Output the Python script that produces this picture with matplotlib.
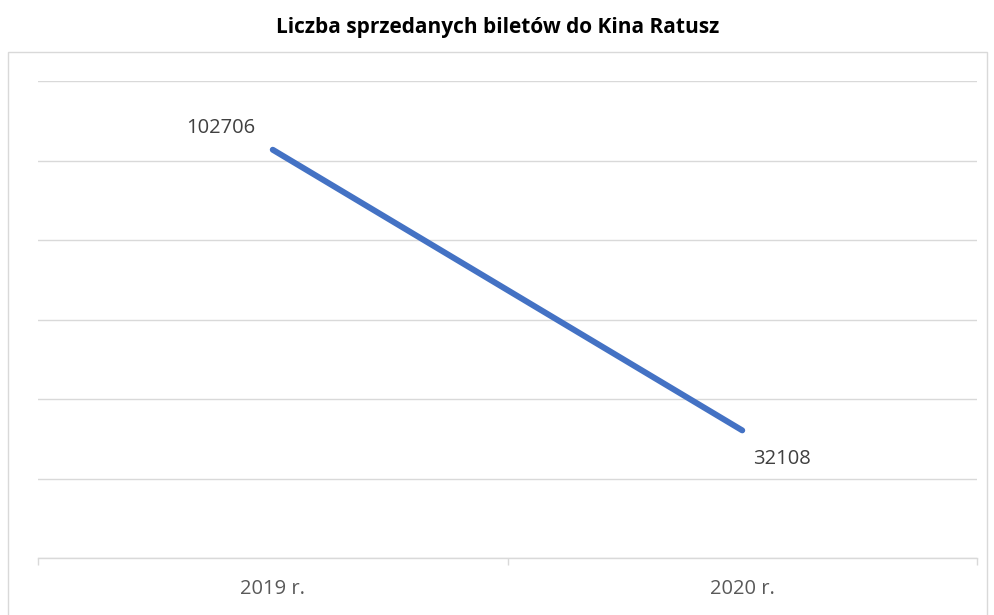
import matplotlib
matplotlib.use("Agg")
import matplotlib.pyplot as plt
from matplotlib.patches import Rectangle

categories = ["2019 r.", "2020 r."]
values = [102706, 32108]
title = "Liczba sprzedanych biletów do Kina Ratusz"

W, H = 995, 615
fig = plt.figure(figsize=(W / 100, H / 100), dpi=100)
fig.patch.set_facecolor("white")

# outer chart border
fig.add_artist(Rectangle((8 / W, -0.01), (987 - 8) / W, (H - 52) / H + 0.01,
                         transform=fig.transFigure, fill=False,
                         edgecolor="#D9D9D9", linewidth=1.0))

ax = fig.add_axes([38 / W, (H - 558) / H, (977 - 38) / W, (558 - 81) / H])
x = list(range(len(categories)))
ax.plot(x, values, color="#4472C4", linewidth=4.3, solid_capstyle="round", zorder=3)
ax.set_xlim(-0.5, len(categories) - 0.5)
ax.set_ylim(0, 120000)
ax.set_yticks(range(0, 120001, 20000))
ax.yaxis.grid(True, color="#D9D9D9", linewidth=1.0)
ax.tick_params(axis="y", left=False, labelleft=False)
for s in ["top", "right", "left"]:
    ax.spines[s].set_visible(False)
ax.spines["bottom"].set_color("#D9D9D9")
ax.spines["bottom"].set_linewidth(1.0)
ax.set_xticks([-0.5, 0.5, 1.5])
ax.set_xticklabels([])
ax.tick_params(axis="x", length=5, color="#D9D9D9", width=1.0)
ax.set_xticks(x, minor=True)
ax.set_xticklabels(categories, minor=True)
ax.tick_params(axis="x", which="minor", length=0, pad=15, labelsize=14.5,
               labelcolor="#595959")
for lab in ax.get_xticklabels(minor=True):
    lab.set_family("Open Sans")

offsets = [(-37.4, 15.3), (28.8, -20.6)]
for xi, v, (dx, dy) in zip(x, values, offsets):
    ax.annotate(str(v), (xi, v), xytext=(dx, dy), textcoords="offset points",
                ha="center", va="center", fontsize=14.5, color="#404040",
                family="Open Sans")

fig.text(0.5, 1 - 28 / H, title, ha="center", va="center", fontsize=15,
         fontweight="bold", family="Open Sans", color="black")

fig.savefig("out.png", dpi=100, facecolor="white")
